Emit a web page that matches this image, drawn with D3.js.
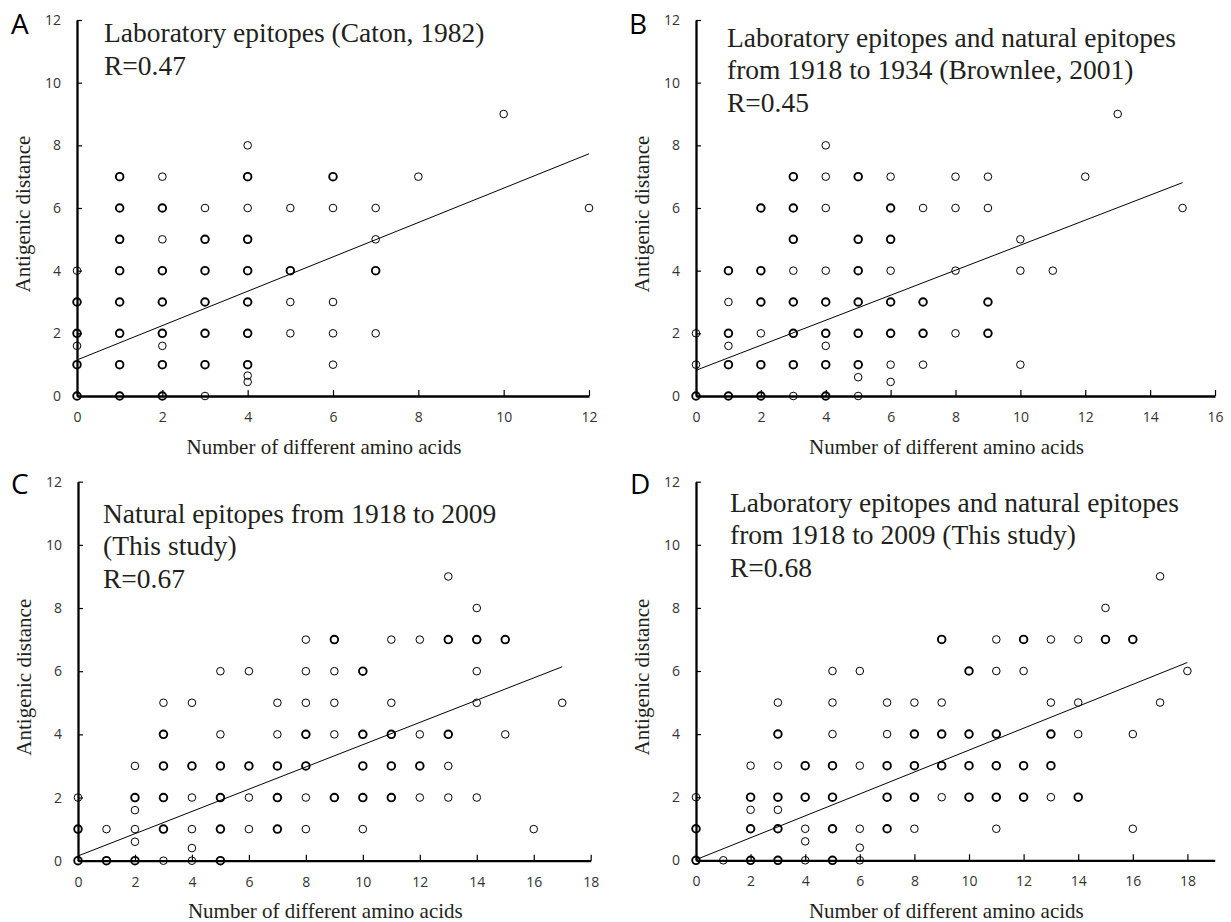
<!DOCTYPE html>
<html>
<head>
<meta charset="utf-8">
<script src="https://cdn.jsdelivr.net/npm/d3@7"></script>
<style>
body { margin: 0; background: #fff; }
.tick text { font-family: "Open Sans", sans-serif; font-size: 14px; fill: #333; }
.tick line { stroke: #000; stroke-width: 1.2; }
.domain { stroke: #000; stroke-width: 2.3; }
.titulo { font-family: "Liberation Serif", "Times New Roman", serif; font-size: 27.5px; fill: #231f20; }
.eje-titulo { font-family: "Liberation Serif", "Times New Roman", serif; font-size: 21px; fill: #231f20; }
.letra { font-family: "Open Sans", sans-serif; font-size: 28px; fill: #000; }
.punto { fill: none; stroke: #000; }
.tendencia { fill: none; stroke: #000; stroke-width: 1; }
</style>
</head>
<body>
<div id="chart"></div>
<script>
// Datos: [aminoacidos distintos, distancia antigenica]; puntos repetidos = circulo grueso
const pointsA = [
  [0,0],[0,0],[0,1],[0,1],[0,1.6],[0,2],[0,2],[0,3],[0,3],[0,4],
  [1,0],[1,0],[1,1],[1,1],[1,2],[1,2],[1,3],[1,3],[1,4],[1,4],[1,5],[1,5],[1,6],[1,6],[1,7],[1,7],
  [2,0],[2,0],[2,1],[2,1],[2,1.6],[2,2],[2,2],[2,3],[2,3],[2,4],[2,4],[2,5],[2,6],[2,6],[2,7],
  [3,0],[3,1],[3,1],[3,2],[3,2],[3,3],[3,3],[3,4],[3,4],[3,5],[3,5],[3,6],
  [4,0.45],[4,0.65],[4,1],[4,1],[4,2],[4,2],[4,3],[4,3],[4,4],[4,4],[4,5],[4,5],[4,6],[4,7],[4,7],[4,8],
  [5,2],[5,3],[5,4],[5,4],[5,6],
  [6,1],[6,2],[6,3],[6,6],[6,7],[6,7],
  [7,2],[7,4],[7,4],[7,5],[7,6],
  [8,7],[10,9],[12,6]
]
const pointsB = [
  [0,0],[0,0],[0,1],[0,2],
  [1,0],[1,0],[1,1],[1,1],[1,1.6],[1,2],[1,2],[1,3],[1,4],[1,4],
  [2,0],[2,0],[2,1],[2,1],[2,2],[2,3],[2,3],[2,4],[2,4],[2,6],[2,6],
  [3,0],[3,1],[3,1],[3,2],[3,2],[3,3],[3,3],[3,4],[3,5],[3,5],[3,6],[3,6],[3,7],[3,7],
  [4,0],[4,0],[4,1],[4,1],[4,1.6],[4,2],[4,2],[4,3],[4,3],[4,4],[4,6],[4,7],[4,8],
  [5,0],[5,0.6],[5,1],[5,1],[5,2],[5,2],[5,3],[5,3],[5,4],[5,4],[5,5],[5,5],[5,7],[5,7],
  [6,0.45],[6,1],[6,2],[6,2],[6,3],[6,3],[6,4],[6,5],[6,5],[6,6],[6,6],[6,7],
  [7,1],[7,2],[7,2],[7,3],[7,3],[7,6],
  [8,2],[8,4],[8,6],[8,7],
  [9,2],[9,2],[9,3],[9,3],[9,6],[9,7],
  [10,1],[10,4],[10,5],[11,4],[12,7],[13,9],[15,6]
]
const pointsC = [
  [0,0],[0,0],[0,1],[0,1],[0,2],
  [1,0],[1,0],[1,1],
  [2,0],[2,0],[2,0.6],[2,1],[2,1.6],[2,2],[2,2],[2,3],
  [3,0],[3,1],[3,1],[3,2],[3,2],[3,3],[3,3],[3,4],[3,4],[3,5],
  [4,0],[4,0.4],[4,1],[4,2],[4,3],[4,3],[4,5],
  [5,0],[5,0],[5,1],[5,1],[5,2],[5,2],[5,3],[5,3],[5,4],[5,6],
  [6,1],[6,2],[6,3],[6,3],[6,6],
  [7,1],[7,1],[7,2],[7,2],[7,3],[7,3],[7,4],[7,5],
  [8,1],[8,2],[8,3],[8,3],[8,4],[8,4],[8,5],[8,6],[8,7],
  [9,2],[9,2],[9,4],[9,5],[9,6],[9,7],[9,7],
  [10,1],[10,2],[10,2],[10,3],[10,3],[10,4],[10,4],[10,6],[10,6],
  [11,2],[11,2],[11,3],[11,3],[11,4],[11,4],[11,5],[11,7],
  [12,2],[12,3],[12,3],[12,4],[12,7],
  [13,2],[13,3],[13,4],[13,4],[13,7],[13,7],[13,9],
  [14,2],[14,5],[14,6],[14,7],[14,7],[14,8],
  [15,4],[15,7],[15,7],[16,1],[17,5]
]
const pointsD = [
  [0,0],[0,0],[0,1],[0,1],[0,2],
  [1,0],
  [2,0],[2,0],[2,1],[2,1],[2,1.6],[2,2],[2,2],[2,3],
  [3,0],[3,0],[3,1],[3,1],[3,1.6],[3,2],[3,2],[3,3],[3,4],[3,4],[3,5],
  [4,0],[4,0.6],[4,1],[4,2],[4,2],[4,3],[4,3],
  [5,0],[5,0],[5,1],[5,1],[5,2],[5,2],[5,3],[5,3],[5,4],[5,5],[5,6],
  [6,0],[6,0.4],[6,1],[6,3],[6,6],
  [7,1],[7,1],[7,2],[7,2],[7,3],[7,3],[7,4],[7,5],
  [8,1],[8,2],[8,2],[8,3],[8,3],[8,4],[8,4],[8,5],
  [9,2],[9,3],[9,3],[9,4],[9,4],[9,5],[9,7],[9,7],
  [10,2],[10,2],[10,3],[10,3],[10,4],[10,4],[10,6],[10,6],
  [11,1],[11,2],[11,2],[11,3],[11,3],[11,4],[11,4],[11,6],[11,7],
  [12,2],[12,2],[12,3],[12,3],[12,6],[12,7],[12,7],
  [13,2],[13,3],[13,3],[13,4],[13,4],[13,5],[13,7],
  [14,2],[14,2],[14,4],[14,5],[14,7],
  [15,7],[15,7],[15,8],
  [16,1],[16,4],[16,7],[16,7],
  [17,5],[17,9],[18,6]
]

// Rectas de regresion (extremos)
const trendA = [[0,1.15],[12,7.73]]
const trendB = [[0,0.82],[15,6.81]]
const trendC = [[0,0.15],[17,6.14]]
const trendD = [[0,0.02],[18,6.27]]

// Textos
const textA = ["Laboratory epitopes (Caton, 1982)", "R=0.47"]
const textB = ["Laboratory epitopes and natural epitopes", "from 1918 to 1934 (Brownlee, 2001)", "R=0.45"]
const textC = ["Natural epitopes from 1918 to 2009", "(This study)", "R=0.67"]
const textD = ["Laboratory epitopes and natural epitopes", "from 1918 to 2009 (This study)", "R=0.68"]
const letters = ["A", "B", "C", "D"]
const xMaxs = [12, 16, 18, 19]
const yTicks = [0, 2, 4, 6, 8, 10, 12]
const xTitle = "Number of different amino acids"
const yTitle = "Antigenic distance"

//Constantes
const width = 1231
const height = 922

const panels = [
  {points: pointsA, trend: trendA, text: textA, left: 77, right: 589, top: 20, bottom: 396, textX: 104, textY: 42, letterX: 11, letterY: 34},
  {points: pointsB, trend: trendB, text: textB, left: 696, right: 1215, top: 20, bottom: 396, textX: 727, textY: 46.5, letterX: 629, letterY: 34},
  {points: pointsC, trend: trendC, text: textC, left: 78, right: 590.7, top: 481.7, bottom: 860.7, textX: 103, textY: 522.7, letterX: 11, letterY: 494},
  {points: pointsD, trend: trendD, text: textD, left: 696, right: 1214.7, top: 481.7, bottom: 860.3, textX: 730, textY: 511.7, letterX: 630, letterY: 494}
]

//svg
const svg = d3.select("#chart")
  .append("svg")
  .attr("width", width)
  .attr("height", height)

panels.forEach((p, i) => {
  const g = svg.append("g").attr("class", "panel")

  const x = d3.scaleLinear().domain([0, xMaxs[i]]).range([p.left, p.right])
  const y = d3.scaleLinear().domain([0, 12]).range([p.bottom, p.top])

  const xAxis = d3.axisBottom(x)
    .tickValues(d3.range(0, xMaxs[i] + 0.1, 2))
    .tickSizeInner(-6).tickSizeOuter(0).tickPadding(16)
  const yAxis = d3.axisLeft(y)
    .tickValues(yTicks)
    .tickSizeInner(-5).tickSizeOuter(0).tickPadding(16)

  g.append("g").attr("transform", `translate(0, ${p.bottom})`).call(xAxis)
  g.append("g").attr("transform", `translate(${p.left}, 0)`).call(yAxis)

  // circulos: los repetidos se dibujan mas gruesos
  const counts = d3.rollups(p.points, v => v.length, d => d[0] + "_" + d[1])
    .map(([k, n]) => ({x: +k.split("_")[0], y: +k.split("_")[1], n: n}))

  g.selectAll(".punto")
    .data(counts)
    .enter()
    .append("circle")
    .attr("class", "punto")
    .attr("cx", d => x(d.x))
    .attr("cy", d => y(d.y))
    .attr("r", 3.8)
    .attr("stroke-width", d => d.n > 1 ? 1.9 : 1)

  g.append("path")
    .datum(p.trend)
    .attr("class", "tendencia")
    .attr("d", d3.line().x(d => x(d[0])).y(d => y(d[1])))

  const t = g.append("text").attr("class", "titulo")
  t.selectAll("tspan")
    .data(p.text)
    .enter()
    .append("tspan")
    .attr("x", p.textX)
    .attr("y", (d, j) => p.textY + j * 32.5)
    .text(d => d)

  g.append("text")
    .attr("class", "letra")
    .attr("x", p.letterX)
    .attr("y", p.letterY)
    .text(letters[i])

  g.append("text")
    .attr("class", "eje-titulo")
    .attr("text-anchor", "middle")
    .attr("x", (p.left + p.right) / 2 - 9)
    .attr("y", p.bottom + 57.5)
    .text(xTitle)

  g.append("text")
    .attr("class", "eje-titulo")
    .attr("text-anchor", "middle")
    .attr("transform", `translate(${p.left - 47}, ${(p.top + p.bottom) / 2 + 6}) rotate(-90)`)
    .text(yTitle)
})
</script>
</body>
</html>
